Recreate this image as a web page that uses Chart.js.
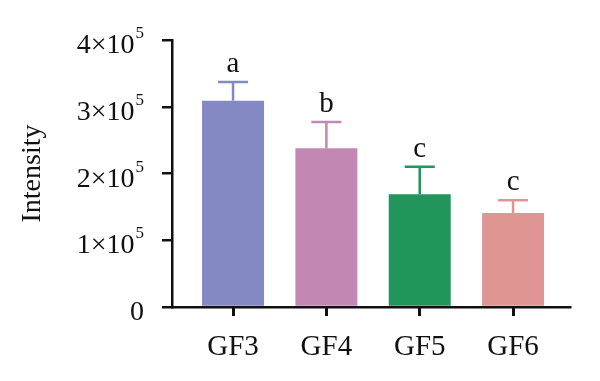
<!DOCTYPE html>
<html>
<head>
<meta charset="utf-8">
<script src="https://cdn.jsdelivr.net/npm/chart.js@4.4.1/dist/chart.umd.min.js"></script>
<style>
html,body{margin:0;padding:0;background:#fff;}
canvas{display:block;}
</style>
</head>
<body>
<canvas id="c" width="600" height="381"></canvas>
<script>
const categories = ['GF3', 'GF4', 'GF5', 'GF6'];
const means = [309000, 238000, 169000, 141000];
const errors = [28000, 39000, 41000, 19000];
const sigLetters = ['a', 'b', 'c', 'c'];
const barColors = ['#8489C3', '#C287B3', '#22955C', '#DF9692'];
const yTickValues = [0, 100000, 200000, 300000, 400000];
const yTickMantissa = ['0', '1×10', '2×10', '3×10', '4×10'];
const yTickExponent = ['', '5', '5', '5', '5'];
const yTitle = 'Intensity';

const SERIF = '"Liberation Serif", "Times New Roman", serif';

const overlay = {
  id: 'overlay',
  afterDatasetsDraw(chart) {
    const ctx = chart.ctx;
    const xs = chart.scales.x, ys = chart.scales.y;
    ctx.save();
    means.forEach((m, i) => {
      const x = xs.getPixelForValue(i);
      const yTop = ys.getPixelForValue(m);
      const yErr = ys.getPixelForValue(m + errors[i]);
      ctx.strokeStyle = barColors[i];
      ctx.lineWidth = 2.5;
      ctx.beginPath();
      ctx.moveTo(x, yTop);
      ctx.lineTo(x, yErr);
      ctx.moveTo(x - 15, yErr);
      ctx.lineTo(x + 15, yErr);
      ctx.stroke();
      ctx.fillStyle = '#111';
      ctx.font = '29px ' + SERIF;
      ctx.textAlign = 'center';
      ctx.textBaseline = 'alphabetic';
      ctx.fillText(sigLetters[i], x, yErr - 10);
    });
    ctx.restore();
  },
  afterDraw(chart) {
    const ctx = chart.ctx;
    const xs = chart.scales.x, ys = chart.scales.y;
    ctx.save();
    ctx.fillStyle = '#111';
    xs.ticks.forEach((t) => {
      const x = xs.getPixelForValue(t.value);
      ctx.fillRect(Math.round(x - 1.25), xs.top, 3, 9);
    });
    ctx.textBaseline = 'alphabetic';
    ys.ticks.forEach((t) => {
      const idx = yTickValues.indexOf(t.value);
      if (idx < 0) return;
      const y = ys.getPixelForValue(t.value);
      const mant = yTickMantissa[idx], ex = yTickExponent[idx];
      ctx.font = '28px ' + SERIF;
      const mw = ctx.measureText(mant).width;
      ctx.font = '17px ' + SERIF;
      const ew = ex ? ctx.measureText(ex).width + 1 : 0;
      const startX = 144 - ew - mw;
      ctx.font = '28px ' + SERIF;
      ctx.textAlign = 'left';
      ctx.fillText(mant, startX, y + 13);
      if (ex) {
        ctx.font = '17px ' + SERIF;
        ctx.fillText(ex, startX + mw + 1, y - 2);
      }
    });
    ctx.restore();
  }
};

new Chart(document.getElementById('c'), {
  type: 'bar',
  data: {
    datasets: [{
      data: means.map((v, i) => ({ x: i, y: v })),
      backgroundColor: barColors,
      barPercentage: 0.664,
      categoryPercentage: 1.0
    }]
  },
  options: {
    responsive: false,
    animation: false,
    events: [],
    layout: { padding: { top: 40, right: 30, left: 0, bottom: 0 } },
    plugins: { legend: { display: false }, tooltip: { enabled: false } },
    scales: {
      x: {
        type: 'linear',
        offset: false,
        min: -0.654,
        max: 3.61,
        afterBuildTicks(axis) {
          axis.ticks = categories.map((c, i) => ({ value: i }));
        },
        afterFit(scale) { scale.height = 74; },
        grid: { display: true, offset: false, drawOnChartArea: false, drawTicks: true, tickLength: 8, color: '#111', lineWidth: 2.5 },
        border: { display: true, color: '#111', width: 2.5 },
        ticks: {
          color: '#111',
          font: { family: SERIF, size: 29 },
          padding: 15,
          callback: (v) => categories[v] ?? ''
        }
      },
      y: {
        min: 0,
        max: 400000,
        afterBuildTicks(axis) {
          axis.ticks = yTickValues.map(v => ({ value: v }));
        },
        afterFit(scale) { scale.width = 172; },
        grid: { display: true, drawOnChartArea: false, drawTicks: true, tickLength: 10, color: '#111', lineWidth: 2.5 },
        border: { display: true, color: '#111', width: 2.5 },
        ticks: { display: false },
        title: {
          display: true,
          text: yTitle,
          color: '#111',
          font: { family: SERIF, size: 28 },
          padding: { top: 16, bottom: 0 }
        }
      }
    }
  },
  plugins: [overlay]
});
</script>
</body>
</html>
